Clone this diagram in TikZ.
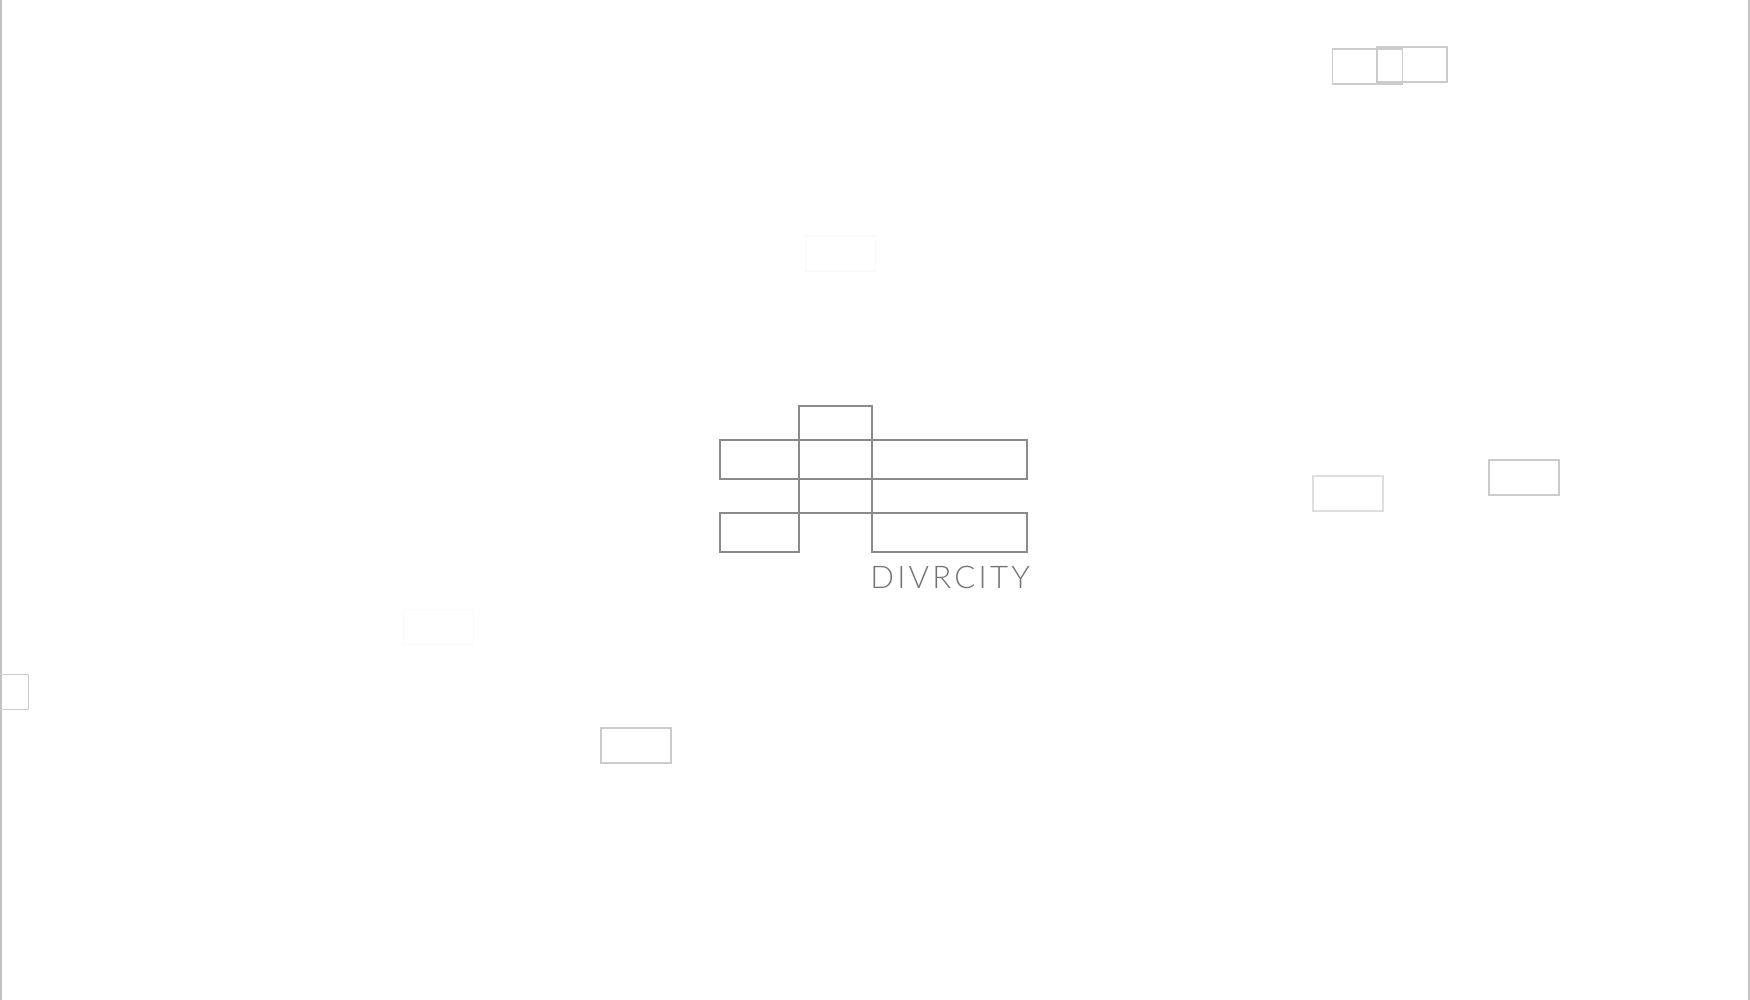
\documentclass[tikz,border=0pt]{standalone}
\usepackage{fontspec}
\setmainfont{TeX Gyre Heros}
\newfontfamily\thinfont[LetterSpace=10.3]{Lato Light}
\definecolor{logoline}{HTML}{8A8A8A}
\definecolor{edgeline}{HTML}{C2C2C2}
\tikzset{
  x=0.5pt,y=-0.5pt,
  tile/.style={draw,rectangle,inner sep=0pt,line width=0.9pt,minimum width=35pt,minimum height=17.5pt},
  darktile/.style={tile,draw=black!20},
  midtile/.style={tile,draw=black!13},
  palatile/.style={tile,draw=black!2},
}
\begin{document}
\begin{tikzpicture}
  \useasboundingbox (0,0) rectangle (1750,1000);
  \draw[edgeline,line width=1pt]
    (1,0) coordinate (lefttop) -- (1,1000) coordinate (leftbottom)
    (1749,0) coordinate (righttop) -- (1749,1000) coordinate (rightbottom);
  \draw
    (1367.5,66.5) node[darktile] (a){}
    (1412,64.5) node[darktile] (b){}
    (840.5,253.5) node[palatile] (c){}
    (1348,493.5) node[midtile] (d){}
    (1524,477.5) node[darktile] (e){}
    (438.5,627) node[palatile] (f){}
    (-6.5,692) node[darktile] (g){}
    (636,745.5) node[darktile] (h){};
  \begin{scope}[logoline,line width=0.9pt,line join=miter]
    \draw (720,440) rectangle (1027,479);
    \draw (799,552) -- (799,406) -- (872,406) -- (872,552) -- (1027,552) -- (1027,513) -- (720,513) -- (720,552) -- cycle;
  \end{scope}
  \node[anchor=south west,inner sep=0pt,text=black!55,font=\thinfont\fontsize{15.6}{15.6}\selectfont] (name) at (870,589) {DIVRCITY};
\end{tikzpicture}
\end{document}
